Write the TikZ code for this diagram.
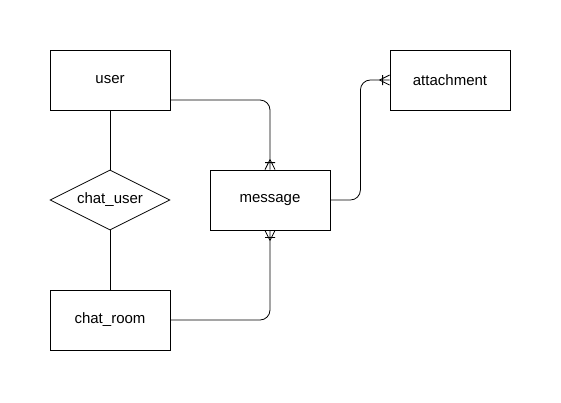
\documentclass[tikz,border=0pt]{standalone}
\usepackage{fontspec}
\setmainfont{Liberation Sans}
\usetikzlibrary{shapes.geometric}
\tikzset{
  entity/.style={draw, line width=0.8pt, minimum width=120pt, minimum height=60pt, inner sep=0pt, font=\fontsize{15}{18}\selectfont},
  relation/.style={draw, diamond, aspect=2, line width=0.8pt, minimum width=120pt, minimum height=60pt, inner sep=0pt, font=\fontsize{15}{18}\selectfont},
  link/.style={line width=0.8pt, rounded corners=10pt},
  crow/.pic={\draw[line width=0.8pt] (-10,0)--(0,-5) (-10,0)--(0,5) (-7,-5)--(-7,5);}
}
\begin{document}
\begin{tikzpicture}[x=1pt,y=-1pt]
\useasboundingbox (0,0) rectangle (561,402);
\node[entity] (user) at (110,80) {user};
\node[relation] (chatuser) at (110,200) {chat\_user};
\node[entity] (chatroom) at (110,320) {chat\_room};
\node[entity] (message) at (270,200) {message};
\node[entity] (attachment) at (450,80) {attachment};
\draw[line width=0.8pt] (user) -- (chatuser);
\draw[line width=0.8pt] (chatuser) -- (chatroom);
\draw[link] ([yshift=-20pt]user.east) -| (message.north);
\draw[link] (chatroom.east) -| (message.south);
\draw[link] (message.east) -- ++(30,0) |- (attachment.west);
\pic[rotate=-90] at (message.north) {crow};
\pic[rotate=90] at (message.south) {crow};
\pic at (attachment.west) {crow};
\end{tikzpicture}
\end{document}
